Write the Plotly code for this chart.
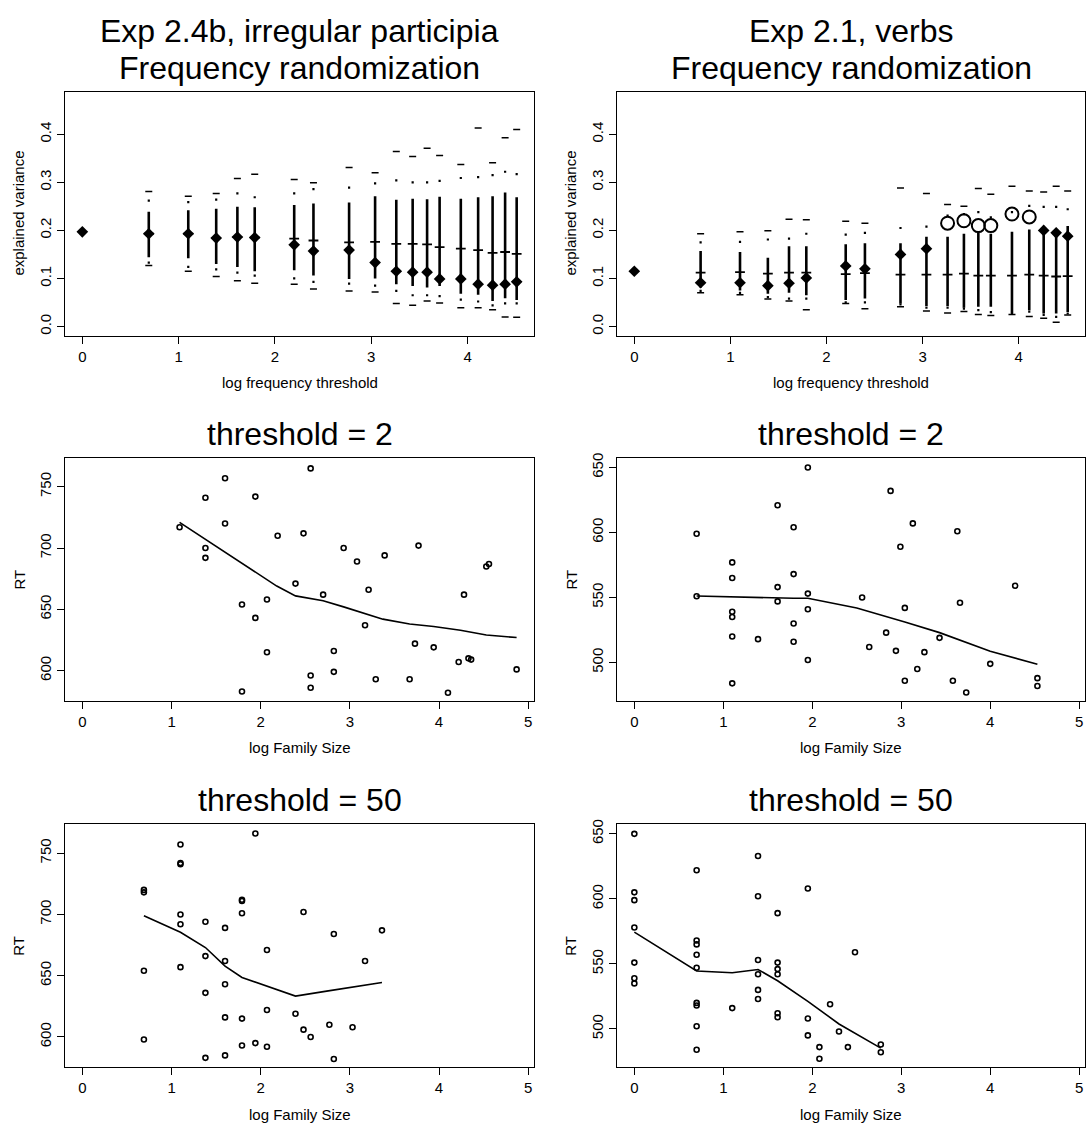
import plotly.graph_objects as go

W, H = 1086, 1126

# ---------------- Data: top panels ----------------
thresholds = [0.00, 0.69, 1.10, 1.39, 1.61, 1.79, 2.20, 2.40, 2.77, 3.04,
              3.26, 3.43, 3.58, 3.71, 3.93, 4.11, 4.26, 4.39, 4.51]

# Exp 2.4b, irregular participia
p_obs = [0.197, 0.193, 0.193, 0.184, 0.186, 0.185, 0.170, 0.157, 0.159, 0.133,
         0.115, 0.113, 0.113, 0.099, 0.099, 0.088, 0.086, 0.088, 0.093]
p_med = [0.193, 0.193, 0.184, 0.186, 0.185, 0.183, 0.179, 0.175, 0.176,
         0.172, 0.172, 0.171, 0.165, 0.162, 0.159, 0.153, 0.155, 0.151]
p_q_lo = [0.144, 0.142, 0.130, 0.124, 0.115, 0.117, 0.106, 0.099, 0.100,
          0.088, 0.084, 0.081, 0.084, 0.068, 0.066, 0.053, 0.059, 0.055]
p_q_hi = [0.239, 0.242, 0.245, 0.249, 0.248, 0.253, 0.256, 0.258, 0.271,
          0.264, 0.266, 0.265, 0.270, 0.266, 0.269, 0.271, 0.279, 0.269]
p_dot_lo = [0.133, 0.124, 0.119, 0.112, 0.106, 0.100, 0.093, 0.089, 0.085,
            0.074, 0.065, 0.065, 0.063, 0.056, 0.052, 0.044, 0.048, 0.048]
p_dot_hi = [0.262, 0.259, 0.264, 0.277, 0.269, 0.277, 0.286, 0.289, 0.298,
            0.304, 0.300, 0.300, 0.303, 0.309, 0.311, 0.315, 0.322, 0.317]
p_min = [0.127, 0.115, 0.104, 0.095, 0.090, 0.088, 0.078, 0.074, 0.072,
         0.048, 0.044, 0.053, 0.049, 0.039, 0.039, 0.035, 0.020, 0.019]
p_max = [0.281, 0.271, 0.277, 0.308, 0.317, 0.306, 0.299, 0.331, 0.320,
         0.364, 0.354, 0.371, 0.356, 0.337, 0.413, 0.341, 0.393, 0.410]

# Exp 2.1, verbs
v_obs = [0.115, 0.091, 0.091, 0.085, 0.090, 0.101, 0.126, 0.120, 0.150, 0.162,
         0.215, 0.220, 0.210, 0.210, 0.234, 0.228, 0.200, 0.195, 0.188]
v_sig = [False, False, False, False, False, False, False, False, False, False,
         True, True, True, True, True, True, False, False, False]
v_med = [0.112, 0.113, 0.110, 0.112, 0.112, 0.109, 0.111, 0.108, 0.108,
         0.108, 0.110, 0.106, 0.106, 0.106, 0.108, 0.106, 0.104, 0.105]
v_q_lo = [0.081, 0.075, 0.068, 0.070, 0.065, 0.055, 0.058, 0.048, 0.042,
          0.042, 0.039, 0.041, 0.041, 0.027, 0.034, 0.027, 0.027, 0.030]
v_q_hi = [0.157, 0.155, 0.143, 0.167, 0.167, 0.171, 0.173, 0.173, 0.187,
          0.187, 0.193, 0.196, 0.193, 0.197, 0.202, 0.200, 0.200, 0.209]
v_dot_lo = [0.074, 0.070, 0.061, 0.058, 0.058, 0.050, 0.050, 0.046, 0.039,
            0.039, 0.037, 0.034, 0.030, 0.026, 0.031, 0.024, 0.020, 0.027]
v_dot_hi = [0.175, 0.176, 0.181, 0.183, 0.193, 0.191, 0.195, 0.205, 0.208,
            0.231, 0.234, 0.238, 0.227, 0.238, 0.251, 0.249, 0.249, 0.244]
v_min = [0.070, 0.066, 0.057, 0.053, 0.035, 0.048, 0.037, 0.041, 0.032,
         0.028, 0.031, 0.025, 0.023, 0.025, 0.021, 0.017, 0.009, 0.024]
v_max = [0.193, 0.197, 0.199, 0.223, 0.222, 0.219, 0.215, 0.288, 0.277,
         0.254, 0.250, 0.287, 0.275, 0.292, 0.282, 0.280, 0.292, 0.282]

# ---------------- Data: scatter panels ----------------
# Exp 2.4b, threshold = 2
a2_fs = [1.09, 1.38, 1.38, 1.38, 1.60, 1.60, 1.79, 1.79, 1.94, 1.94, 2.07, 2.07,
         2.19, 2.39, 2.48, 2.56, 2.56, 2.56, 2.70, 2.82, 2.82, 2.93, 3.08, 3.17,
         3.21, 3.29, 3.39, 3.67, 3.73, 3.77, 3.94, 4.10, 4.22, 4.28, 4.33, 4.36,
         4.53, 4.56, 4.87]
a2_rt = [717, 741, 700, 692, 757, 720, 654, 583, 742, 643, 658, 615,
         710, 671, 712, 765, 596, 586, 662, 616, 599, 700, 689, 637,
         666, 593, 694, 593, 622, 702, 619, 582, 607, 662, 610, 609,
         685, 687, 601]
a2_sm_x = [1.09, 2.18, 2.39, 2.70, 2.93, 3.15, 3.37, 3.67, 3.94, 4.24, 4.53, 4.87]
a2_sm_y = [721, 669, 661, 657, 652, 647, 642, 638, 636, 633, 629, 627]

# Exp 2.1, threshold = 2
b2_fs = [0.70, 0.70, 1.10, 1.10, 1.10, 1.10, 1.10, 1.10, 1.39, 1.61, 1.61, 1.61,
         1.79, 1.79, 1.79, 1.79, 1.95, 1.95, 1.95, 1.95, 2.56, 2.64, 2.83, 2.88,
         2.94, 2.99, 3.04, 3.04, 3.13, 3.18, 3.26, 3.43, 3.58, 3.63, 3.66, 3.73,
         4.00, 4.28, 4.53, 4.53]
b2_rt = [599, 551, 577, 565, 539, 535, 520, 484, 518, 621, 558, 547,
         604, 568, 530, 516, 650, 553, 541, 502, 550, 512, 523, 632,
         509, 589, 486, 542, 607, 495, 508, 519, 486, 601, 546, 477,
         499, 559, 488, 482]
b2_sm_x = [0.70, 1.10, 1.61, 1.79, 1.95, 2.50, 3.04, 3.43, 4.00, 4.53]
b2_sm_y = [551.2, 550.4, 549.4, 549.4, 549.4, 542.0, 531.1, 523.0, 508.7, 498.7]

# Exp 2.4b, threshold = 50
a50_fs = [0.69, 0.69, 0.69, 0.69, 1.10, 1.10, 1.10, 1.10, 1.10, 1.10, 1.38, 1.38,
          1.38, 1.38, 1.60, 1.60, 1.60, 1.60, 1.60, 1.79, 1.79, 1.79, 1.79, 1.79,
          1.94, 1.94, 2.07, 2.07, 2.07, 2.39, 2.48, 2.48, 2.56, 2.77, 2.82, 2.82,
          3.03, 3.17, 3.36]
a50_rt = [720, 718, 654, 598, 757, 742, 741, 700, 692, 657, 694, 666,
          636, 583, 689, 662, 643, 616, 585, 712, 711, 701, 615, 593,
          766, 595, 671, 622, 592, 619, 702, 606, 600, 610, 684, 582,
          608, 662, 687]
a50_sm_x = [0.69, 1.10, 1.38, 1.60, 1.79, 2.07, 2.39, 2.74, 3.04, 3.36]
a50_sm_y = [699.0, 685.4, 673.0, 657.8, 648.6, 641.5, 633.4, 637.4, 641.0, 644.5]

# Exp 2.1, threshold = 50
b50_fs = [0.00, 0.00, 0.00, 0.00, 0.00, 0.00, 0.00, 0.70, 0.70, 0.70, 0.70, 0.70,
          0.70, 0.70, 0.70, 0.70, 1.10, 1.39, 1.39, 1.39, 1.39, 1.39, 1.39, 1.61,
          1.61, 1.61, 1.61, 1.61, 1.61, 1.95, 1.95, 1.95, 2.08, 2.08, 2.20, 2.30,
          2.40, 2.48, 2.77, 2.77]
b50_rt = [650, 605, 599, 578, 551, 539, 535, 622, 568, 565, 557, 547,
          520, 518, 502, 484, 516, 633, 602, 553, 542, 530, 523, 589,
          551, 546, 542, 512, 509, 608, 508, 495, 486, 477, 519, 498,
          486, 559, 488, 482]
b50_sm_x = [0.00, 0.70, 1.10, 1.39, 1.61, 1.95, 2.30, 2.77]
b50_sm_y = [574.4, 544.5, 543.2, 545.7, 537.0, 521.2, 503.8, 485.2]

# ---------------- Layout helpers ----------------
FONT = "Liberation Sans, Arial, Helvetica, sans-serif"


def px(x):
    return x / W


def py(y):
    return 1 - y / H


col_x = [(65, 534), (617, 1085)]
row_y = [(87, 332), (455, 699), (823, 1067)]

fig = go.Figure()


def axis_common():
    return dict(showline=True, linecolor="black", linewidth=1.3, mirror=True,
                ticks="outside", ticklen=7, tickwidth=1.3, tickcolor="black",
                showgrid=False, zeroline=False,
                tickfont=dict(family=FONT, size=15, color="black"))


layout = dict(width=W, height=H, margin=dict(l=0, r=0, t=0, b=0),
              paper_bgcolor="white", plot_bgcolor="white", showlegend=False,
              font=dict(family=FONT, color="black"))

panels = []  # (row, col)
for r in range(3):
    for c in range(2):
        panels.append((r, c))

for i, (r, c) in enumerate(panels):
    n = i + 1
    xa = axis_common()
    ya = axis_common()
    x0, x1 = col_x[c]
    y0, y1 = row_y[r]
    xa["domain"] = [px(x0), px(x1)]
    ya["domain"] = [py(y1), py(y0)]
    xa["anchor"] = "y" if n == 1 else f"y{n}"
    ya["anchor"] = "x" if n == 1 else f"x{n}"
    ya["tickangle"] = -90
    if r == 0:
        xa["range"] = [-0.18, 4.69]
        xa["tickvals"] = [0, 1, 2, 3, 4]
        ya["range"] = [-0.0188, 0.4888]
        ya["tickvals"] = [0.0, 0.1, 0.2, 0.3, 0.4]
        ya["ticktext"] = ["0.0", "0.1", "0.2", "0.3", "0.4"]
    else:
        xa["range"] = [-0.195, 5.065]
        xa["tickvals"] = [0, 1, 2, 3, 4, 5]
        if c == 0:
            ya["range"] = [575.3, 773.5]
            ya["tickvals"] = [600, 650, 700, 750]
        else:
            ya["range"] = [470.5, 657.3]
            ya["tickvals"] = [500, 550, 600, 650]
    layout["xaxis" if n == 1 else f"xaxis{n}"] = xa
    layout["yaxis" if n == 1 else f"yaxis{n}"] = ya


def refs(n):
    return ("x" if n == 1 else f"x{n}", "y" if n == 1 else f"y{n}")


def add_random_panel(n, obs, med, q_lo, q_hi, d_lo, d_hi, mn, mx, sig=None):
    xr, yr = refs(n)
    xs = thresholds[1:]
    lx, ly = [], []
    for x, a, b in zip(xs, q_lo, q_hi):
        lx += [x, x, None]
        ly += [a, b, None]
    fig.add_trace(go.Scatter(x=lx, y=ly, mode="lines", xaxis=xr, yaxis=yr,
                             line=dict(color="black", width=2.6),
                             hoverinfo="skip"))
    fig.add_trace(go.Scatter(x=xs, y=med, mode="markers", xaxis=xr, yaxis=yr,
                             marker=dict(symbol="line-ew", size=7,
                                         color="black",
                                         line=dict(color="black", width=1.8))))
    fig.add_trace(go.Scatter(x=xs + xs, y=d_lo + d_hi, mode="markers",
                             xaxis=xr, yaxis=yr,
                             marker=dict(symbol="square", size=2.2,
                                         color="black",
                                         line=dict(width=0))))
    fig.add_trace(go.Scatter(x=xs + xs, y=mn + mx, mode="markers",
                             xaxis=xr, yaxis=yr,
                             marker=dict(symbol="line-ew", size=5,
                                         color="black",
                                         line=dict(color="black", width=1.5))))
    if sig is None:
        sig = [False] * len(obs)
    dx = [x for x, s in zip(thresholds, sig) if not s]
    dy = [v for v, s in zip(obs, sig) if not s]
    cx = [x for x, s in zip(thresholds, sig) if s]
    cy = [v for v, s in zip(obs, sig) if s]
    fig.add_trace(go.Scatter(x=dx, y=dy, mode="markers", xaxis=xr, yaxis=yr,
                             marker=dict(symbol="diamond", size=9,
                                         color="black",
                                         line=dict(width=0))))
    if cx:
        fig.add_trace(go.Scatter(x=cx, y=cy, mode="markers", xaxis=xr,
                                 yaxis=yr,
                                 marker=dict(symbol="circle-open", size=13,
                                             color="black",
                                             line=dict(color="black",
                                                       width=2))))


def add_scatter_panel(n, fs, rt, sx, sy):
    xr, yr = refs(n)
    fig.add_trace(go.Scatter(x=fs, y=rt, mode="markers", xaxis=xr, yaxis=yr,
                             marker=dict(symbol="circle-open", size=5,
                                         color="black",
                                         line=dict(color="black", width=1.6))))
    fig.add_trace(go.Scatter(x=sx, y=sy, mode="lines", xaxis=xr, yaxis=yr,
                             line=dict(color="black", width=1.6)))


add_random_panel(1, p_obs, p_med, p_q_lo, p_q_hi, p_dot_lo, p_dot_hi,
                 p_min, p_max)
add_random_panel(2, v_obs, v_med, v_q_lo, v_q_hi, v_dot_lo, v_dot_hi,
                 v_min, v_max, sig=v_sig)
add_scatter_panel(3, a2_fs, a2_rt, a2_sm_x, a2_sm_y)
add_scatter_panel(4, b2_fs, b2_rt, b2_sm_x, b2_sm_y)
add_scatter_panel(5, a50_fs, a50_rt, a50_sm_x, a50_sm_y)
add_scatter_panel(6, b50_fs, b50_rt, b50_sm_x, b50_sm_y)

# ---------------- Text ----------------
ann = []


def text(x, y, s, size, angle=0):
    ann.append(dict(x=px(x), y=py(y), xref="paper", yref="paper", text=s,
                    showarrow=False, textangle=angle, xanchor="center",
                    yanchor="middle",
                    font=dict(family=FONT, size=size, color="black")))


titles = [["Exp 2.4b, irregular participia", "Frequency randomization"],
          ["Exp 2.1, verbs", "Frequency randomization"],
          ["threshold = 2"], ["threshold = 2"],
          ["threshold = 50"], ["threshold = 50"]]
xlabels = ["log frequency threshold", "log frequency threshold",
           "log Family Size", "log Family Size",
           "log Family Size", "log Family Size"]
ylabels = ["explained variance", "explained variance", "RT", "RT", "RT", "RT"]

for i, (r, c) in enumerate(panels):
    x0, x1 = col_x[c]
    y0, y1 = row_y[r]
    cxm = (x0 + x1) / 2
    lines = titles[i]
    if len(lines) == 2:
        text(cxm, y0 - 61, lines[0], 32)
        text(cxm, y0 - 24, lines[1], 32)
    else:
        text(cxm, y0 - 24, lines[0], 32)
    text(cxm, y1 + 47, xlabels[i], 15)
    text(x0 - 46, (y0 + y1) / 2, ylabels[i], 15, angle=-90)

layout["annotations"] = ann
fig.update_layout(**layout)

fig.write_html("out.html")
